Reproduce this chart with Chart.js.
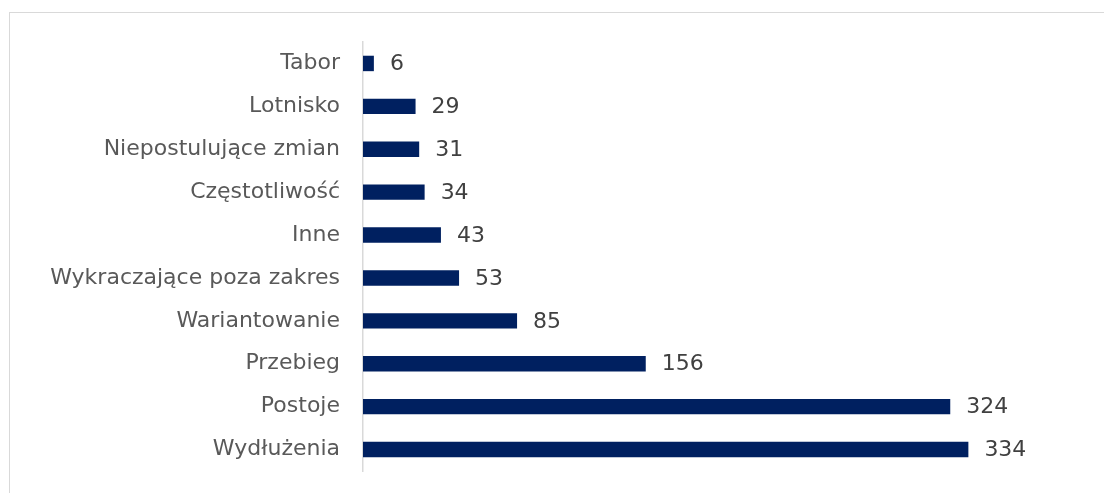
<!DOCTYPE html>
<html>
<head>
<meta charset="utf-8">
<script src="https://cdn.jsdelivr.net/npm/chart.js@4"></script>
<style>
html,body{margin:0;padding:0;background:#fff;overflow:hidden;}
#wrap{position:relative;width:1104px;height:493px;}
#frame{position:absolute;left:9px;top:12px;width:1200px;height:600px;border:1.5px solid #d9d9d9;box-sizing:border-box;}
#box{position:absolute;left:0;top:0;width:1104px;height:493px;}
</style>
</head>
<body>
<div id="wrap">
<div id="frame"></div>
<div id="box"><canvas id="c"></canvas></div>
</div>
<script>
const categories = ["Tabor","Lotnisko","Niepostulujące zmian","Częstotliwość","Inne","Wykraczające poza zakres","Wariantowanie","Przebieg","Postoje","Wydłużenia"];
const values = [6,29,31,34,43,53,85,156,324,334];
const xMax = 400;

const valueLabels = {
  id:'valueLabels',
  afterDatasetsDraw(chart){
    const ctx = chart.ctx;
    const meta = chart.getDatasetMeta(0);
    ctx.save();
    ctx.font = '22px "DejaVu Sans"';
    ctx.fillStyle = '#404040';
    ctx.textAlign = 'left';
    ctx.textBaseline = 'middle';
    meta.data.forEach((bar,i)=>{
      ctx.fillText(String(values[i]), bar.x + 16, bar.y + 1);
    });
    ctx.restore();
  }
};

new Chart(document.getElementById('c'), {
  type:'bar',
  data:{labels:categories,datasets:[{data:values,backgroundColor:'#002060',categoryPercentage:0.36,barPercentage:1}]},
  options:{
    indexAxis:'y',
    responsive:true,
    maintainAspectRatio:false,
    animation:false,
    layout:{padding:{top:42,bottom:22,left:0,right:16}},
    plugins:{legend:{display:false},tooltip:{enabled:false}},
    scales:{
      x:{display:false,min:0,max:xMax},
      y:{
        grid:{display:false,drawTicks:false},
        border:{display:true,color:'#d9d9d9',width:1.5},
        ticks:{color:'#595959',font:{family:'"DejaVu Sans"',size:22,weight:'normal'},padding:23},
        afterFit(scale){ scale.width = 363; scale.paddingTop = 0; scale.paddingBottom = 0; }
      }
    }
  },
  plugins:[valueLabels]
});
</script>
</body>
</html>
